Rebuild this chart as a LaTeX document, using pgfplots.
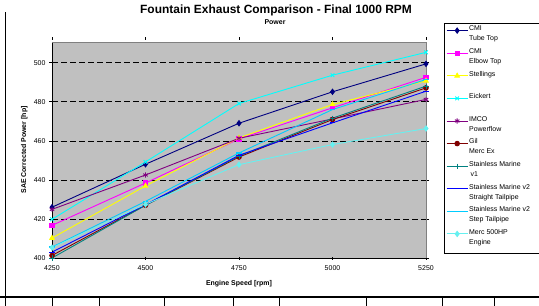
\documentclass[border=0pt]{standalone}
\usepackage{fontspec}
\setmainfont{Liberation Sans}
\usepackage{pgfplots}
\pgfplotsset{compat=1.18}
\definecolor{navyc}{HTML}{000080}
\definecolor{magc}{HTML}{FF00FF}
\definecolor{yelc}{HTML}{FFFF00}
\definecolor{cyac}{HTML}{00FFFF}
\definecolor{purc}{HTML}{800080}
\definecolor{redc}{HTML}{800000}
\definecolor{teac}{HTML}{008080}
\definecolor{bluc}{HTML}{0000FF}
\definecolor{skyc}{HTML}{00CCFF}
\definecolor{lcyc}{HTML}{66F0F0}
\definecolor{plotbg}{HTML}{C0C0C0}
\newcommand{\legtxt}[1]{\parbox[b][20.1bp][t]{68bp}{\raggedright\baselineskip=10bp #1}}
\begin{document}
\begin{tikzpicture}
\path[use as bounding box] (0bp,0bp) rectangle (539bp,306bp);
% spreadsheet frame
\draw[line width=0.8bp] (5.5bp,0bp) -- (5.5bp,294bp);
\draw[line width=1.2bp] (0bp,9bp) -- (539bp,9bp);
\foreach \xx in {52,99,164,233,279,366,442,494} {\draw[line width=0.8bp] (\xx bp,0bp) -- (\xx bp,9bp);}
\begin{axis}[
  at={(52bp,48bp)}, anchor=south west,
  width=374bp, height=216bp, scale only axis,
  xmin=4250, xmax=5250, ymin=400, ymax=510.6,
  xtick={4250,4500,4750,5000,5250},
  ytick={400,420,440,460,480,500},
  axis background/.style={fill=plotbg},
  axis line style={draw=none},
  ymajorgrids,
  grid style={black, line width=0.6bp, dash pattern=on 5.5bp off 3.5bp},
  major tick style={black, line width=0.6bp},
  tick align=outside, major tick length=3bp,
  xtick style={yshift=1.5bp},
  tick label style={font=\fontsize{7}{8}\selectfont},
  /pgf/number format/assume math mode=true,
  /pgf/number format/1000 sep={},
  xticklabel style={yshift=-1bp},
  xlabel={\bfseries Engine Speed [rpm]},
  ylabel={\bfseries SAE Corrected Power [hp]},
  label style={font=\fontsize{7}{8}\selectfont},
  xlabel style={at={(0.5,0)}, anchor=north, yshift=-19bp},
  ylabel style={at={(0,0.5)}, anchor=south, yshift=21bp},
  clip=false,
  legend style={at={(1.049,1.088)}, anchor=north west, draw=black, line width=0.8bp,
    font=\fontsize{7}{8}\selectfont, row sep=0bp, column sep=0.5bp,
    nodes={inner sep=0.5bp},
    cells={anchor=base west}, inner xsep=1.5bp, inner ysep=2bp},
  legend image code/.code={\draw[mark repeat=2,mark phase=2,line width=0.9bp,yshift=15.4bp] plot coordinates {(0bp,0bp) (10.5bp,0bp) (21bp,0bp)};},
  every axis plot/.append style={line width=0.9bp},
]
\addplot[navyc, mark=diamond*, mark size=2.6bp] coordinates {(4250,426) (4500,448) (4750,469) (5000,485.1) (5250,499.4)};
\addlegendentry{\legtxt{CMI\\Tube Top}}
\addplot[magc, mark=square*, mark size=2.1bp] coordinates {(4250,416.7) (4500,438.4) (4750,461) (5000,476.9) (5250,492.5)};
\addlegendentry{\legtxt{CMI\\Elbow Top}}
\addplot[yelc, mark=triangle*, mark size=2.6bp] coordinates {(4250,410.2) (4500,436.9) (4750,461.5) (5000,478.6) (5250,490.7)};
\addlegendentry{\legtxt{Stellings}}
\addplot[cyac, mark=x, mark size=2.6bp, mark options={line width=0.9bp}] coordinates {(4250,419.8) (4500,449.2) (4750,479.1) (5000,493.6) (5250,505.3)};
\addlegendentry{\legtxt{Eickert}}
\addplot[purc, mark=asterisk, mark size=2.6bp, mark options={line width=0.9bp}] coordinates {(4250,424.9) (4500,442.5) (4750,461.3) (5000,471.2) (5250,481.2)};
\addlegendentry{\legtxt{IMCO\\Powerflow}}
\addplot[redc, mark=*, mark size=2.3bp] coordinates {(4250,401.3) (4500,427) (4750,451.7) (5000,470.9) (5250,487.1)};
\addlegendentry{\legtxt{Gil\\Merc Ex}}
\addplot[teac, mark=+, mark size=2.6bp, mark options={line width=0.9bp}] coordinates {(4250,400) (4500,427) (4750,452.2) (5000,471.6) (5250,488)};
\addlegendentry{\legtxt{Stainless Marine\\\hspace*{1.5bp}v1}}
\addplot[bluc, mark=-, mark size=2.6bp, mark options={line width=1.2bp}] coordinates {(4250,403) (4500,427.3) (4750,452.6) (5000,469.2) (5250,485.4)};
\addlegendentry{\legtxt{Stainless Marine v2\\Straight Tailpipe}}
\addplot[skyc, mark=-, mark size=2.6bp, mark options={line width=1.2bp}] coordinates {(4250,405.6) (4500,429) (4750,453.8) (5000,476) (5250,491.4)};
\addlegendentry{\legtxt{Stainless Marine v2\\Step Tailpipe}}
\addplot[lcyc, mark=diamond*, mark size=2.6bp] coordinates {(4250,405.3) (4500,427.5) (4750,447.8) (5000,458.1) (5250,466.3)};
\addlegendentry{\legtxt{Merc 500HP\\Engine}}
% axis lines
\draw[black, line width=0.9bp] (axis cs:4250,510.6) -- (axis cs:4250,400) -- (axis cs:5250,400);
\draw[gray, line width=0.9bp] (axis cs:4250,510.6) -- (axis cs:5250,510.6) -- (axis cs:5250,400);
\end{axis}
% titles
\node[font=\bfseries\fontsize{12}{14}\selectfont] at (276bp,296bp) {Fountain Exhaust Comparison - Final 1000 RPM};
\node[font=\bfseries\fontsize{7}{8}\selectfont] at (275bp,284bp) {Power};
\end{tikzpicture}
\end{document}
